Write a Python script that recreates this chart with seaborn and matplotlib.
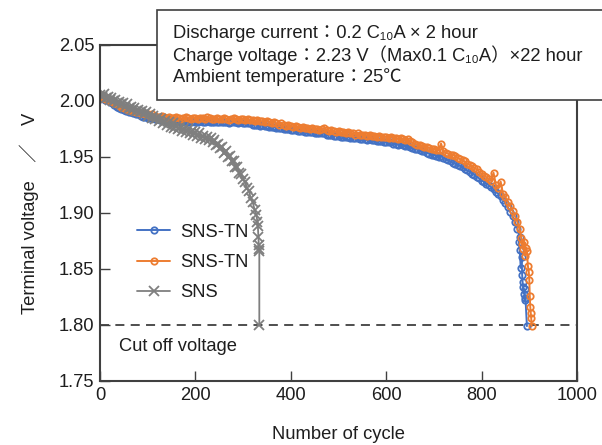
import matplotlib
matplotlib.use("Agg")
import matplotlib.pyplot as plt
import seaborn as sns
import pandas as pd
from matplotlib.patches import Rectangle

# ---------------- data ----------------
tn_cycles = list(range(0, 885, 5))
orange_volt = [
    2.004, 2.005, 2.002, 2.003, 2.000, 2.000, 1.998, 1.997, 1.996, 1.995, 1.994,
    1.993, 1.992, 1.992, 1.991, 1.990, 1.990, 1.989, 1.989, 1.988, 1.988,
    1.987, 1.988, 1.987, 1.986, 1.986, 1.987, 1.986, 1.985, 1.986, 1.985,
    1.985, 1.986, 1.985, 1.984, 1.985, 1.986, 1.985, 1.984, 1.985, 1.985,
    1.984, 1.985, 1.985, 1.984, 1.986, 1.985, 1.984, 1.984, 1.985, 1.984,
    1.984, 1.985, 1.984, 1.983, 1.984, 1.985, 1.984, 1.983, 1.984, 1.984,
    1.983, 1.984, 1.983, 1.983, 1.982, 1.983, 1.982, 1.982, 1.981, 1.982,
    1.981, 1.980, 1.981, 1.980, 1.979, 1.980, 1.979, 1.978, 1.979, 1.978,
    1.977, 1.978, 1.977, 1.976, 1.977, 1.976, 1.976, 1.975, 1.976, 1.975,
    1.975, 1.974, 1.975, 1.976, 1.974, 1.973, 1.974, 1.973, 1.972, 1.973,
    1.972, 1.972, 1.971, 1.972, 1.971, 1.971, 1.970, 1.971, 1.970, 1.970,
    1.970, 1.969, 1.970, 1.969, 1.969, 1.968, 1.969, 1.968, 1.968, 1.968,
    1.967, 1.968, 1.967, 1.967, 1.966, 1.967, 1.966, 1.965, 1.966, 1.964,
    1.963, 1.962, 1.961, 1.961, 1.960, 1.959, 1.959, 1.958, 1.957, 1.957,
    1.956, 1.956, 1.962, 1.955, 1.954, 1.953, 1.952, 1.952, 1.951, 1.949,
    1.948, 1.947, 1.946, 1.944, 1.943, 1.942, 1.940, 1.939, 1.937, 1.935,
    1.933, 1.932, 1.930, 1.929, 1.936, 1.925, 1.922, 1.928, 1.917, 1.914,
    1.910, 1.906, 1.902, 1.897, 1.892, 1.886,
]
orange_tail_cycles = [883, 885, 887, 889, 891, 893, 895, 897, 899, 900, 901, 902, 903, 904, 905]
orange_tail_volt = [1.878, 1.872, 1.868, 1.874, 1.862, 1.869, 1.866, 1.853, 1.847, 1.840,
                    1.826, 1.816, 1.811, 1.806, 1.799]

blue_volt = [
    2.003, 2.004, 2.001, 2.002, 1.999, 1.998, 1.996, 1.995, 1.994, 1.993, 1.992,
    1.991, 1.990, 1.990, 1.989, 1.988, 1.988, 1.987, 1.986, 1.986, 1.985,
    1.985, 1.985, 1.984, 1.984, 1.983, 1.984, 1.983, 1.983, 1.982, 1.982,
    1.982, 1.983, 1.982, 1.981, 1.982, 1.982, 1.981, 1.981, 1.982, 1.981,
    1.981, 1.982, 1.981, 1.981, 1.982, 1.981, 1.981, 1.981, 1.981, 1.981,
    1.981, 1.981, 1.981, 1.980, 1.981, 1.981, 1.981, 1.980, 1.981, 1.980,
    1.980, 1.980, 1.980, 1.979, 1.979, 1.979, 1.978, 1.979, 1.978, 1.978,
    1.977, 1.977, 1.977, 1.976, 1.976, 1.976, 1.975, 1.975, 1.975, 1.974,
    1.974, 1.974, 1.973, 1.973, 1.973, 1.972, 1.972, 1.972, 1.972, 1.971,
    1.971, 1.971, 1.971, 1.971, 1.970, 1.970, 1.970, 1.969, 1.969, 1.969,
    1.968, 1.968, 1.968, 1.968, 1.967, 1.967, 1.967, 1.967, 1.966, 1.966,
    1.966, 1.965, 1.966, 1.965, 1.965, 1.964, 1.964, 1.964, 1.963, 1.963,
    1.963, 1.963, 1.962, 1.962, 1.961, 1.962, 1.961, 1.960, 1.960, 1.959,
    1.958, 1.957, 1.957, 1.956, 1.955, 1.955, 1.954, 1.953, 1.952, 1.952,
    1.951, 1.950, 1.951, 1.949, 1.948, 1.947, 1.946, 1.945, 1.944, 1.943,
    1.942, 1.941, 1.939, 1.938, 1.937, 1.935, 1.934, 1.932, 1.931, 1.929,
    1.928, 1.926, 1.925, 1.923, 1.921, 1.919, 1.917, 1.915, 1.912, 1.909,
    1.905, 1.901, 1.897, 1.892, 1.886, 1.879,
]
blue_tail_cycles = [878, 880, 882, 884, 885, 886, 887, 888, 890, 891, 892, 895]
blue_tail_volt = [1.874, 1.867, 1.851, 1.861, 1.845, 1.838, 1.834, 1.828, 1.832, 1.822, 1.824, 1.799]

sns_cycles = list(range(0, 332, 4))
sns_volt = [
    2.005, 2.004, 2.006, 2.003, 2.004, 2.001, 2.003, 2.000, 2.001, 1.998,
    1.999, 1.997, 1.998, 1.995, 1.997, 1.994, 1.995, 1.992, 1.994, 1.991,
    1.992, 1.990, 1.991, 1.988, 1.990, 1.987, 1.988, 1.985, 1.987, 1.984,
    1.985, 1.982, 1.984, 1.980, 1.982, 1.979, 1.981, 1.977, 1.980, 1.976,
    1.978, 1.975, 1.977, 1.973, 1.976, 1.972, 1.975, 1.971, 1.973, 1.970,
    1.972, 1.969, 1.971, 1.967, 1.969, 1.966, 1.968, 1.965, 1.967, 1.963,
    1.965, 1.961, 1.962, 1.958, 1.959, 1.954, 1.955, 1.950, 1.951, 1.946,
    1.946, 1.941, 1.941, 1.936, 1.935, 1.930, 1.928, 1.922, 1.920, 1.913,
    1.910, 1.903, 1.898,
]
sns_tail_cycles = [330, 331, 332, 333, 333, 334, 334]
sns_tail_volt = [1.892, 1.888, 1.879, 1.871, 1.868, 1.866, 1.800]

cutoff_voltage = 1.80
x_ticks = [0, 200, 400, 600, 800, 1000]
y_ticks = [1.75, 1.80, 1.85, 1.90, 1.95, 2.00, 2.05]
labels = ["SNS-TN", "SNS-TN", "SNS"]
colors = ["#4472C4", "#ED7D31", "#7F7F7F"]

# ---------------- plotting ----------------
sns.set_style("ticks")
plt.rcParams["font.family"] = ["Liberation Sans", "Noto Sans CJK JP", "DejaVu Sans"]
fs = 13.2
tc = "#1e1e1e"

fig = plt.figure(figsize=(6.02, 4.45), dpi=100)
ax = fig.add_axes([100 / 602, (445 - 381) / 445, 477 / 602, 336 / 445])

blue_df = pd.DataFrame({"cycle": tn_cycles + blue_tail_cycles, "v": blue_volt + blue_tail_volt})
orange_df = pd.DataFrame({"cycle": tn_cycles + orange_tail_cycles, "v": orange_volt + orange_tail_volt})
sns_df = pd.DataFrame({"cycle": sns_cycles + sns_tail_cycles, "v": sns_volt + sns_tail_volt})

common = dict(x="cycle", y="v", estimator=None, sort=False, ax=ax)
sns.lineplot(data=blue_df, color=colors[0], lw=1.4, marker="o", markersize=4.6,
             markerfacecolor="none", markeredgecolor=colors[0], markeredgewidth=1.3,
             label=labels[0], **common)
sns.lineplot(data=orange_df, color=colors[1], lw=1.4, marker="o", markersize=4.6,
             markerfacecolor="none", markeredgecolor=colors[1], markeredgewidth=1.3,
             label=labels[1], **common)
sns.lineplot(data=sns_df, color=colors[2], lw=1.3, marker="x", markersize=6.5,
             markeredgecolor=colors[2], markeredgewidth=1.3,
             label=labels[2], **common)

ax.axhline(cutoff_voltage, color="#404040", lw=1.3, ls=(0, (5, 3.5)), zorder=1)
ax.text(40, 1.781, "Cut off voltage", fontsize=fs, color=tc, va="center", ha="left")

ax.set_xlim(0, 1000)
ax.set_ylim(1.75, 2.05)
ax.set_xticks(x_ticks)
ax.set_yticks(y_ticks)
ax.set_yticklabels([f"{t:.2f}" for t in y_ticks])
ax.tick_params(axis="both", direction="in", length=7, width=1.0, color="#404040",
               labelsize=fs, labelcolor=tc, pad=4)
for s in ax.spines.values():
    s.set_visible(True)
    s.set_color("#404040")
    s.set_linewidth(1.5)

ax.set_xlabel("Number of cycle", fontsize=fs, color=tc)
ax.set_ylabel("Terminal voltage　／　V", fontsize=fs, color=tc)
ax.xaxis.set_label_coords(0.5, -0.135)
ax.yaxis.set_label_coords(-0.128, 0.5)

leg = ax.legend(loc="upper left", bbox_to_anchor=(0.078, 0.468), frameon=False,
                fontsize=fs, handlelength=1.8, handletextpad=0.55, labelspacing=0.72,
                borderaxespad=0, borderpad=0)
for t in leg.get_texts():
    t.set_color(tc)

# condition box
box = Rectangle((157 / 602, (445 - 100) / 445), 0.8, 90 / 445, transform=fig.transFigure,
                facecolor="white", edgecolor="#404040", lw=1.2, zorder=10, clip_on=False)
fig.patches.append(box)
box_lines = [
    "Discharge current：0.2 C₁₀A × 2 hour",
    "Charge voltage：2.23 V（Max0.1 C₁₀A）×22 hour",
    "Ambient temperature：25℃",
]
for i, line in enumerate(box_lines):
    fig.text(173 / 602, (445 - 33 - 22 * i) / 445, line, fontsize=fs, color=tc,
             va="center", ha="left", zorder=11)

fig.savefig("out.png", dpi=100)
